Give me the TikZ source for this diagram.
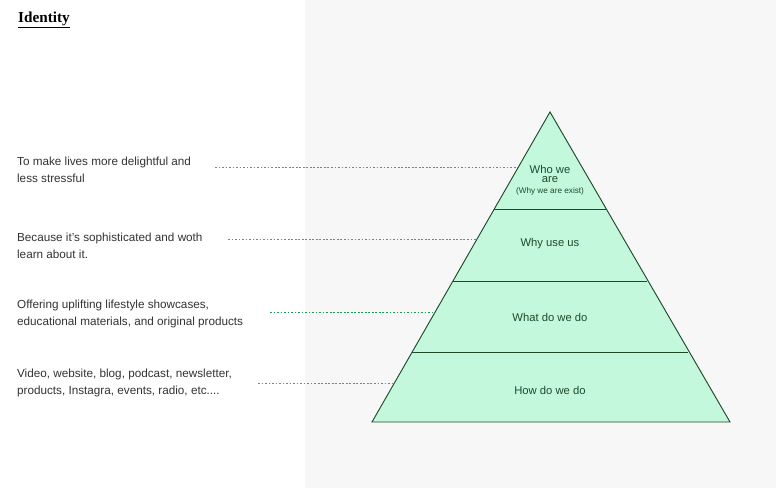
\documentclass[tikz,border=0pt]{standalone}
\usepackage{fontspec}
\setmainfont{Liberation Sans}
\newfontfamily\titlefont{Liberation Serif}
\usepackage[dvipsnames]{xcolor}
\definecolor{pyrfill}{HTML}{C4F8DC}
\definecolor{pyrline}{HTML}{1F4A2A}
\definecolor{panel}{HTML}{F7F7F7}

\begin{document}
\begin{tikzpicture}[x=0.03cm,y=-0.03cm,
    note/.style={anchor=west,align=left,font=\fontsize{10}{14.5}\selectfont,text=black!80},
    layer/.style={font=\fontsize{9.6}{10}\selectfont,text=pyrline},
    leader/.style={dash pattern=on 1.5pt off 1.5pt,gray,thin}]

            \fill[white] (0,0) rectangle (305,488);
            \fill[panel] (305,0) rectangle (776,488);
            \useasboundingbox (0,0) rectangle (776,488);

            \node[anchor=west,font=\titlefont\bfseries\fontsize{13}{13}\selectfont] (title) at (14,20) {\underline{Identity}};

            \coordinate (apex) at (550,112);
            \coordinate (bl) at (372,422);
            \coordinate (br) at (730,422);
            \filldraw[fill=pyrfill,draw=pyrline,thick] (apex) -- (bl) -- (br) -- cycle;
            \draw[pyrline] (494.3,209) -- (605.7,209);
            \draw[pyrline] (453,281) -- (647,281);
            \draw[pyrline] (412.2,352) -- (687.8,352);

            \node[layer,align=center] (who) at (550,180) {Who we\\[-2pt]are\\[-1pt]{\fontsize{7}{7}\selectfont(Why we are exist)}};
            \node[layer] (why) at (550,244) {Why use us};
            \node[layer] (what) at (550,317) {What do we do};
            \node[layer] (how) at (550,390) {How do we do};

            \node[note] (n1) at (13,170) {To make lives more delightful and\\less stressful};
            \node[note] (n2) at (13,246) {Because it's sophisticated and woth\\learn about it.};
            \node[note] (n3) at (13,314) {Offering uplifting lifestyle showcases,\\educational materials, and original products};
            \node[note] (n4) at (13,383) {Video, website, blog, podcast, newsletter,\\products, Instagra, events, radio, etc....};

            \coordinate (s1) at (215,167);
            \coordinate (e1) at (518.4,167);
            \coordinate (s2) at (228,239);
            \coordinate (e2) at (477,239);
            \coordinate (s3) at (270,312);
            \coordinate (e3) at (435,312);
            \coordinate (s4) at (258,383);
            \coordinate (e4) at (394.4,383);

            \draw[leader] (s1) -- (e1);
            \draw[leader] (s2) -- (e2);
            \draw[leader,ForestGreen] (s3) -- (e3);
            \draw[leader] (s4) -- (e4);
\end{tikzpicture}
\end{document}
